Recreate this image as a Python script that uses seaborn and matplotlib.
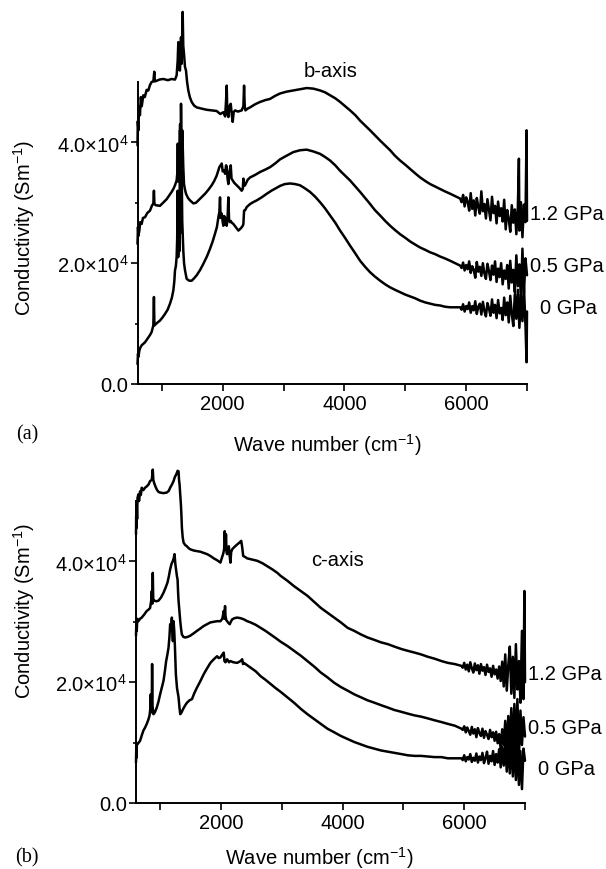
import numpy as np
import pandas as pd
import matplotlib
matplotlib.use("Agg")
import matplotlib.pyplot as plt
from matplotlib.ticker import FixedLocator, FuncFormatter
import seaborn as sns

# ---------------- data (wave number in cm^-1, conductivity in S/m) ----------------
labels = ["1.2 GPa", "0.5 GPa", "0 GPa"]

# panel (a) b-axis : smooth part
a12_w = [600, 605, 615, 625, 640, 655, 670, 695, 720, 750, 778, 805, 832, 860, 876, 885, 915, 960, 1024, 1100,
         1160, 1216, 1243, 1260, 1271, 1285, 1298, 1315, 1325, 1342, 1352, 1364, 1380, 1397, 1415, 1435, 1460, 1490,
         1530, 1572, 1650, 1737, 1820, 1901, 1960, 2011, 2040, 2055, 2066, 2075, 2093, 2110, 2132, 2150, 2164, 2180,
         2203, 2250, 2312, 2340, 2351, 2362, 2373, 2410, 2450, 2530, 2614, 2700, 2778, 2860, 2943, 3050, 3161, 3270,
         3380, 3490, 3600, 3680, 3764, 3850, 3929, 4010, 4093, 4180, 4258, 4340, 4422, 4500, 4587, 4670, 4751, 4830,
         4915, 5000, 5080, 5160, 5244, 5330, 5409, 5490, 5573, 5650, 5738, 5820, 5902]
a12_v = [39500, 43500, 42000, 46000, 44500, 47500, 46000, 47800, 47500, 48700, 48600, 49500, 50000, 50100, 51700,
         50100, 50200, 50400, 50500, 50300, 50500, 50400, 51100, 53500, 56600, 52000, 51900, 57400, 53000, 61600,
         56000, 54700, 52500, 51900, 50000, 48600, 47500, 46700, 46100, 45800, 45600, 45400, 45300, 45200, 44700,
         45000, 44300, 46900, 49400, 45000, 44200, 46000, 46400, 44500, 43400, 45000, 45300, 45100, 45300, 46000,
         49400, 46000, 45300, 45600, 45800, 46300, 46700, 47000, 47200, 47700, 48100, 48400, 48600, 48800, 49000,
         48900, 48600, 48300, 47800, 47300, 46700, 46000, 45300, 44500, 43600, 42800, 42000, 41200, 40300, 39500,
         38700, 37800, 37000, 36300, 35600, 34900, 34200, 33600, 33100, 32700, 32300, 31900, 31500, 31100, 30700]
# noisy high-frequency end
a12_end_w = [5925, 5950, 5975, 6000, 6025, 6050, 6075, 6100, 6125, 6150, 6175, 6200, 6225, 6250, 6275, 6300, 6325,
             6350, 6375, 6400, 6425, 6450, 6475, 6500, 6525, 6550, 6575, 6600, 6625, 6650, 6675, 6700, 6725, 6750,
             6775, 6800, 6825, 6850, 6867, 6875, 6900, 6925, 6950, 6975, 6993, 7000]
a12_end_v = [30100, 31300, 29400, 30900, 30200, 28700, 31600, 29000, 30400, 27900, 30800, 29300, 28200, 31900,
             28600, 29800, 27400, 30600, 28900, 27100, 31000, 28300, 29500, 26600, 30200, 27800, 29100, 26900, 30500,
             25600, 28800, 27300, 25200, 29600, 26700, 28900, 24800, 29300, 37300, 25400, 30100, 24300, 29700, 26800,
             42000, 27000]

a05_w = [600, 608, 615, 630, 645, 668, 690, 723, 760, 805, 840, 860, 870, 878, 900, 969, 1020, 1079, 1120, 1161,
         1190, 1216, 1243, 1255, 1262, 1270, 1280, 1290, 1300, 1308, 1315, 1325, 1335, 1342, 1352, 1364, 1380, 1397,
         1430, 1463, 1518, 1560, 1600, 1650, 1710, 1760, 1819, 1860, 1901, 1945, 1984, 2000, 2022, 2040, 2055, 2066,
         2080, 2093, 2110, 2132, 2145, 2164, 2190, 2230, 2270, 2312, 2330, 2340, 2350, 2367, 2410, 2450, 2530, 2614,
         2700, 2778, 2860, 2943, 3050, 3161, 3270, 3380, 3490, 3600, 3680, 3764, 3850, 3929, 4010, 4093, 4180, 4258,
         4340, 4422, 4500, 4587, 4670, 4751, 4830, 4915, 5000, 5080, 5160, 5244, 5330, 5409, 5490, 5573, 5650, 5738,
         5820, 5902]
a05_v = [23200, 26000, 24500, 25400, 26800, 26500, 27500, 27600, 28300, 28700, 29600, 29800, 32000, 29800, 29600,
         29500, 30000, 30600, 31200, 31800, 32300, 32900, 33700, 35000, 39800, 33500, 37000, 34500, 43000, 36000,
         46400, 38000, 42000, 39800, 36000, 33100, 32200, 31500, 30800, 30400, 29900, 30000, 30400, 30900, 31500,
         32100, 32900, 33600, 34500, 35900, 36500, 35200, 35400, 34800, 36200, 35900, 34000, 33100, 35000, 36200,
         34000, 33700, 33300, 32900, 32500, 32000, 32300, 34000, 32800, 32900, 33800, 34200, 34600, 35100, 35500,
         35900, 36500, 37200, 37800, 38400, 38700, 38800, 38500, 38100, 37600, 37000, 36200, 35300, 34500, 33700,
         32700, 31800, 30800, 29800, 28800, 27900, 27000, 26200, 25500, 24800, 24200, 23600, 23100, 22600, 22200,
         21800, 21500, 21100, 20800, 20400, 20000, 19600]
a05_end_w = [5925, 5950, 5975, 6000, 6025, 6050, 6075, 6100, 6125, 6150, 6175, 6200, 6225, 6250, 6275, 6300, 6325,
             6350, 6375, 6400, 6425, 6450, 6475, 6500, 6525, 6550, 6575, 6600, 6625, 6650, 6675, 6700, 6725, 6750,
             6775, 6800, 6825, 6850, 6875, 6900, 6925, 6950, 6975, 7000]
a05_end_v = [19200, 20100, 18800, 19700, 19000, 20300, 18400, 19500, 18900, 17600, 20200, 18600, 19400, 17900,
             20000, 18300, 17400, 19900, 18700, 17200, 19600, 18100, 20300, 16900, 19100, 17700, 20000, 16500, 18800,
             17400, 19700, 15800, 20400, 16800, 18900, 15200, 21300, 16200, 19800, 14100, 22400, 15000, 20800, 18000]

a00_w = [600, 608, 615, 630, 645, 668, 690, 723, 750, 778, 805, 832, 860, 870, 878, 920, 969, 1010, 1052, 1095,
         1134, 1165, 1189, 1205, 1216, 1230, 1243, 1252, 1260, 1268, 1276, 1285, 1290, 1298, 1305, 1312, 1320, 1326,
         1335, 1345, 1353, 1365, 1381, 1408, 1450, 1490, 1530, 1572, 1630, 1682, 1740, 1792, 1835, 1874, 1905, 1929,
         1945, 1956, 1965, 1984, 2000, 2011, 2025, 2038, 2050, 2066, 2080, 2093, 2105, 2120, 2132, 2150, 2175, 2220,
         2258, 2300, 2330, 2340, 2351, 2370, 2395, 2450, 2500, 2559, 2640, 2724, 2800, 2888, 2943, 3020, 3106, 3190,
         3271, 3350, 3435, 3520, 3600, 3680, 3764, 3850, 3929, 4010, 4093, 4180, 4258, 4340, 4422, 4500, 4587, 4670,
         4751, 4830, 4915, 5000, 5080, 5160, 5244, 5330, 5409, 5490, 5573, 5650, 5738, 5820, 5902]
a00_v = [3300, 5000, 4500, 5500, 6000, 6400, 6600, 6900, 7300, 7700, 8100, 8600, 9700, 14400, 9700, 10100, 10500,
         11000, 11600, 12300, 13300, 14300, 15500, 17000, 18800, 19500, 21000, 24000, 32000, 21000, 23000, 30000,
         22000, 42000, 25000, 38000, 28000, 35300, 27000, 24300, 22000, 20000, 18800, 17400, 17100, 17100, 17500,
         18000, 18900, 19900, 21100, 22400, 23600, 24900, 26000, 27600, 28500, 30900, 27500, 28200, 26800, 26200,
         27800, 27600, 26500, 26200, 27500, 30900, 27000, 26800, 27000, 26700, 26500, 25900, 25400, 25800, 26200,
         26500, 28700, 28800, 29300, 29800, 30100, 30400, 30900, 31500, 32000, 32500, 32800, 33100, 33200, 33100,
         32900, 32400, 31800, 31000, 30100, 29100, 27900, 26700, 25400, 24200, 22900, 21600, 20400, 19400, 18500,
         17800, 17100, 16500, 16000, 15600, 15200, 14800, 14500, 14200, 13800, 13500, 13300, 13100, 13000, 12800,
         12700, 12700, 12700]
a00_end_w = [5925, 5950, 5975, 6000, 6025, 6050, 6075, 6100, 6125, 6150, 6175, 6200, 6225, 6250, 6275, 6300, 6325,
             6350, 6375, 6400, 6425, 6450, 6475, 6500, 6525, 6550, 6575, 6600, 6625, 6650, 6675, 6700, 6725, 6750,
             6775, 6800, 6825, 6850, 6875, 6900, 6925, 6950, 6975, 6993, 7000]
a00_end_v = [12300, 13200, 12000, 12900, 12400, 13500, 11800, 12900, 12200, 13700, 11600, 12800, 13300, 11500,
             13600, 12100, 11200, 13400, 12500, 11300, 14000, 11800, 13100, 10900, 13900, 11700, 12600, 10600, 14300,
             11400, 13500, 10200, 14600, 11600, 9600, 14900, 10800, 15600, 9300, 14800, 10400, 16000, 9700, 3600,
             12000]

# panel (b) c-axis : smooth part
b12_w = [600, 603, 606, 611, 618, 625, 639, 650, 667, 680, 694, 720, 749, 775, 804, 832, 860, 876, 885, 898, 920,
         942, 970, 997, 1050, 1107, 1140, 1162, 1190, 1218, 1240, 1262, 1285, 1300, 1308, 1317, 1328, 1339, 1348,
         1355, 1368, 1383, 1410, 1438, 1465, 1493, 1550, 1603, 1660, 1713, 1770, 1824, 1880, 1934, 1989, 2010, 2033,
         2050, 2060, 2072, 2080, 2090, 2099, 2115, 2127, 2140, 2154, 2165, 2182, 2220, 2264, 2300, 2331, 2345, 2364,
         2400, 2430, 2510, 2595, 2680, 2760, 2840, 2926, 2980, 3090, 3200, 3310, 3421, 3530, 3641, 3750, 3862, 3970,
         4082, 4190, 4302, 4410, 4523, 4630, 4743, 4850, 4964, 5070, 5184, 5290, 5404, 5510, 5625, 5730, 5845, 5955]
b12_v = [44500, 47500, 45500, 49400, 47000, 50500, 51100, 50000, 51600, 51000, 52200, 51800, 52200, 52400, 52700,
         53300, 53500, 55200, 53500, 53000, 52400, 51900, 51500, 51400, 51300, 51400, 51700, 52200, 52700, 53300,
         54000, 54400, 55000, 54900, 53500, 52700, 51000, 49400, 47500, 45600, 44000, 43100, 42700, 42500, 42200,
         42000, 41800, 41700, 41600, 41400, 41200, 40900, 40500, 40200, 39800, 40500, 41200, 42000, 45000, 42000,
         44500, 41500, 41200, 42200, 42500, 41000, 39800, 41500, 42000, 42400, 42800, 43100, 43400, 42500, 40900,
         40700, 40500, 40300, 40100, 39700, 39200, 38700, 38100, 37600, 36800, 35900, 35100, 34300, 33300, 32300,
         31500, 30700, 29900, 29000, 28500, 27900, 27400, 27000, 26600, 26300, 25900, 25500, 25200, 24900, 24600,
         24200, 23900, 23500, 23200, 23000, 22700]
b12_end_w = [5975, 6000, 6025, 6050, 6075, 6100, 6125, 6150, 6175, 6200, 6225, 6250, 6275, 6300, 6325, 6350, 6375,
             6400, 6425, 6450, 6475, 6500, 6525, 6550, 6575, 6600, 6625, 6650, 6675, 6700, 6725, 6750, 6775, 6800,
             6825, 6850, 6875, 6900, 6925, 6950, 6975, 6990, 7000]
b12_end_v = [22400, 23200, 22100, 22900, 21800, 23300, 22300, 21600, 23100, 22000, 22800, 21400, 23000, 21900,
             22500, 21200, 22900, 21700, 22300, 20900, 22700, 21300, 22100, 20600, 22600, 20200, 23400, 19300, 24600,
             18600, 22800, 25900, 18100, 24200, 17400, 26300, 18800, 23500, 16600, 28500, 17200, 35100, 20000]

b05_w = [600, 605, 612, 622, 639, 667, 694, 735, 777, 805, 832, 850, 860, 868, 876, 884, 898, 935, 970, 1010, 1052,
         1085, 1118, 1140, 1162, 1185, 1207, 1222, 1234, 1248, 1262, 1274, 1284, 1292, 1300, 1314, 1328, 1342, 1355,
         1380, 1410, 1450, 1493, 1550, 1603, 1660, 1713, 1770, 1824, 1880, 1934, 1989, 2020, 2044, 2055, 2065, 2072,
         2085, 2099, 2120, 2143, 2160, 2182, 2220, 2264, 2320, 2375, 2430, 2485, 2570, 2650, 2730, 2815, 2900, 2980,
         3090, 3200, 3310, 3421, 3530, 3641, 3750, 3862, 3970, 4082, 4190, 4302, 4410, 4523, 4630, 4743, 4850, 4964,
         5070, 5184, 5290, 5404, 5510, 5625, 5730, 5845, 5955]
b05_v = [27700, 29500, 28500, 30500, 30100, 30500, 30700, 31200, 31800, 32000, 32300, 33500, 35100, 33000, 38100,
         33500, 33500, 33400, 33500, 34000, 34800, 35600, 36500, 37500, 38700, 39600, 40100, 40600, 41200, 39500,
         38400, 37500, 37000, 35000, 33500, 31800, 30100, 28800, 27900, 27500, 27400, 27500, 27700, 28100, 28500,
         28900, 29300, 29600, 29900, 30000, 30100, 30100, 30500, 31800, 30500, 32600, 31000, 30300, 30100, 29800,
         29600, 30000, 30400, 30600, 30700, 30600, 30400, 30100, 29900, 29500, 29000, 28500, 27900, 27300, 26700,
         26000, 25200, 24400, 23500, 22600, 21600, 20800, 19900, 19200, 18600, 18000, 17500, 17000, 16600, 16200,
         15800, 15400, 15100, 14800, 14500, 14300, 14000, 13700, 13400, 13100, 12800, 12300]
b05_end_w = [5975, 6000, 6025, 6050, 6075, 6100, 6125, 6150, 6175, 6200, 6225, 6250, 6275, 6300, 6325, 6350, 6375,
             6400, 6425, 6450, 6475, 6500, 6525, 6550, 6575, 6600, 6625, 6650, 6675, 6700, 6725, 6750, 6775, 6800,
             6825, 6850, 6875, 6900, 6925, 6950, 6975, 7000]
b05_end_v = [12100, 12700, 11700, 12500, 11900, 11300, 12600, 11500, 12200, 10900, 12400, 11600, 11100, 12300,
             10800, 11900, 11300, 10600, 12100, 10900, 11700, 10300, 11800, 9900, 11400, 8900, 12200, 9600, 13600,
             8600, 14400, 9300, 15700, 8100, 16400, 8700, 17200, 7600, 15300, 9600, 14200, 11000]

b00_w = [600, 604, 608, 613, 622, 645, 667, 695, 722, 750, 777, 800, 821, 835, 843, 852, 860, 865, 872, 887, 910,
         942, 970, 997, 1025, 1052, 1075, 1096, 1115, 1135, 1150, 1162, 1175, 1190, 1200, 1207, 1218, 1229, 1240,
         1256, 1275, 1300, 1315, 1328, 1350, 1372, 1405, 1438, 1480, 1521, 1560, 1603, 1660, 1713, 1770, 1824, 1880,
         1934, 1960, 1989, 2015, 2044, 2055, 2072, 2100, 2130, 2154, 2200, 2264, 2320, 2347, 2360, 2375, 2430, 2485,
         2570, 2650, 2730, 2815, 2900, 2980, 3090, 3200, 3310, 3421, 3530, 3641, 3750, 3862, 3970, 4082, 4190, 4302,
         4410, 4523, 4630, 4743, 4850, 4964, 5070, 5184, 5290, 5404, 5510, 5625, 5730, 5845, 5955]
b00_v = [6700, 9000, 7500, 9800, 9700, 10000, 10300, 11200, 12000, 12500, 13100, 13700, 14400, 15500, 18000, 15000,
         17500, 23000, 16000, 14700, 15000, 15800, 16800, 18000, 19100, 20200, 21800, 23500, 24500, 25700, 27500,
         29600, 28500, 30700, 28000, 26800, 30100, 28500, 26000, 21300, 19000, 17500, 15800, 14700, 15000, 15500,
         16100, 16600, 17000, 17200, 18200, 19100, 20200, 21300, 22300, 23200, 23800, 24300, 24000, 24100, 24500,
         24900, 23500, 23300, 23800, 23300, 23500, 23300, 23200, 23500, 23800, 23000, 23200, 22800, 22400, 21800,
         21000, 20400, 19700, 19000, 18400, 17500, 16600, 15600, 14700, 13900, 13100, 12300, 11700, 11100, 10600,
         10100, 9700, 9300, 9000, 8700, 8500, 8300, 8100, 7900, 7800, 7800, 7700, 7600, 7600, 7400, 7400, 7400]
b00_end_w = [5975, 6000, 6025, 6050, 6075, 6100, 6125, 6150, 6175, 6200, 6225, 6250, 6275, 6300, 6325, 6350, 6375,
             6400, 6425, 6450, 6475, 6500, 6525, 6550, 6575, 6600, 6625, 6650, 6675, 6700, 6725, 6750, 6775, 6800,
             6825, 6850, 6875, 6900, 6925, 6950, 6975, 7000]
b00_end_v = [7100, 7900, 6900, 7600, 7200, 8100, 6800, 7500, 7000, 8200, 6700, 7700, 7100, 8300, 6600, 7400, 8500,
             6500, 7800, 6900, 8600, 6300, 8100, 6700, 8900, 5900, 9300, 6200, 9800, 5200, 10500, 4900, 11000, 4400,
             10200, 3800, 9600, 3000, 8600, 2300, 9000, 7000]

yticks = [0, 20000, 40000]
xticks = [2000, 4000, 6000]

# ---------------- style ----------------
sns.set_style("ticks")
plt.rcParams["font.family"] = ["Liberation Sans", "DejaVu Sans"]
plt.rcParams["mathtext.fontset"] = "custom"
plt.rcParams["mathtext.rm"] = "Liberation Sans"
plt.rcParams["mathtext.it"] = "Liberation Sans"
for k in ["text.color", "axes.labelcolor", "xtick.color", "ytick.color", "axes.edgecolor"]:
    plt.rcParams[k] = "black"
plt.rcParams["axes.linewidth"] = 1.4
FS = 14.5

W, H = 606, 870
fig = plt.figure(figsize=(W / 100, H / 100), dpi=100)


def px_axes(left, right, top, bottom):
    return fig.add_axes([left / W, 1 - bottom / H, (right - left) / W, (bottom - top) / H])


ax_a = px_axes(137.5, 527, 83, 385)
ax_b = px_axes(136, 525, 502, 804)


def yfmt(v, pos):
    if v == 0:
        return "0.0"
    return r"$\mathregular{%.1f{\times}10^{4}}$" % (v / 1e4)


panels = [
    (ax_a, [(a12_w + a12_end_w, a12_v + a12_end_v),
            (a05_w + a05_end_w, a05_v + a05_end_v),
            (a00_w + a00_end_w, a00_v + a00_end_v)]),
    (ax_b, [(b12_w + b12_end_w, b12_v + b12_end_v),
            (b05_w + b05_end_w, b05_v + b05_end_v),
            (b00_w + b00_end_w, b00_v + b00_end_v)]),
]

for ax, curves in panels:
    for (w, v), lab in zip(curves, labels):
        df = pd.DataFrame({"w": w, "v": v})
        sns.lineplot(data=df, x="w", y="v", ax=ax, color="black", lw=1.8,
                     estimator=None, sort=False, clip_on=False)
    ax.set_xlim(600, 7000)
    ax.set_ylim(0, 50000)
    sns.despine(ax=ax)
    ax.xaxis.set_major_locator(FixedLocator(xticks))
    ax.xaxis.set_minor_locator(FixedLocator([1000, 3000, 5000, 7000]))
    ax.yaxis.set_major_locator(FixedLocator(yticks))
    ax.yaxis.set_minor_locator(FixedLocator([10000, 30000]))
    ax.yaxis.set_major_formatter(FuncFormatter(yfmt))
    ax.tick_params(axis="x", which="both", direction="out", length=5, width=1.2, pad=2, labelsize=FS)
    ax.tick_params(axis="y", which="major", direction="out", length=5, width=1.2, pad=1.5, labelsize=FS)
    ax.tick_params(axis="y", which="minor", direction="out", length=2.5, width=1.2)
    ax.set_xlabel(r"Wave number (cm$^{\mathregular{-1}}$)", fontsize=FS)
    ax.set_ylabel(r"Conductivity (Sm$^{\mathregular{-1}}$)", fontsize=FS)

ax_a.xaxis.set_label_coords(0.4865, -0.199)
ax_a.yaxis.set_label_coords(-0.291, 0.52)
ax_b.xaxis.set_label_coords(0.47, -0.18)
ax_b.yaxis.set_label_coords(-0.288, 0.639)
for ax in (ax_a, ax_b):
    ax.xaxis.label.set_verticalalignment("center")
    ax.yaxis.label.set_verticalalignment("center")


def ftext(x, y, s, **kw):
    fig.text(x / W, 1 - y / H, s, va="center", **kw)


ftext(331, 72, "b-axis", ha="center", fontsize=FS)
ftext(337, 560, "c-axis", ha="center", fontsize=FS)

ftext(530, 215, "1.2 GPa", ha="left", fontsize=FS)
ftext(530, 267, "0.5 GPa", ha="left", fontsize=FS)
ftext(540, 309, "0 GPa", ha="left", fontsize=FS)
ftext(528, 675, "1.2 GPa", ha="left", fontsize=FS)
ftext(528, 728, "0.5 GPa", ha="left", fontsize=FS)
ftext(538, 770, "0 GPa", ha="left", fontsize=FS)

ftext(27, 435, "(a)", ha="center", fontsize=FS, family=["Liberation Serif", "DejaVu Serif"])
ftext(27, 858, "(b)", ha="center", fontsize=FS, family=["Liberation Serif", "DejaVu Serif"])

fig.savefig("out.png", dpi=100, facecolor="white")
